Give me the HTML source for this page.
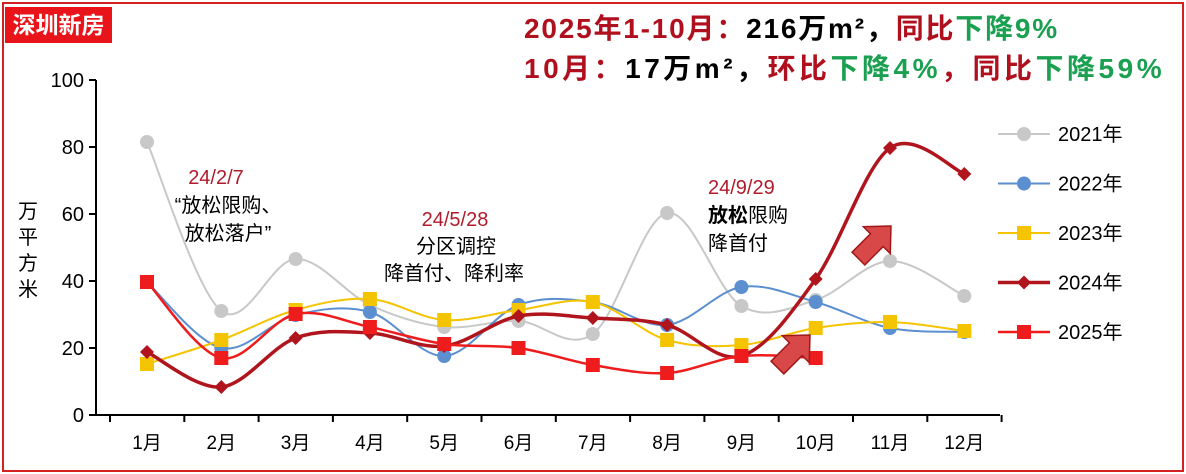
<!DOCTYPE html><html><head><meta charset="utf-8"><style>
body{margin:0;background:#fff;font-family:"Liberation Sans","Noto Sans CJK SC",sans-serif}
#c{position:relative;width:1186px;height:474px;overflow:hidden}
.t{position:absolute;white-space:nowrap}
</style></head><body><div id="c">
<div style="position:absolute;left:2px;top:2px;width:1178px;height:466px;border:2px solid #d42020"></div>
<div class="t" style="left:5px;top:7px;width:107px;height:36px;background:#e8141a;color:#fff;font-weight:bold;font-size:23px;line-height:36px;text-align:center">深圳新房</div>
<div class="t" style="left:524px;top:7px;font-size:28px;letter-spacing:1.8px;font-weight:bold;color:#000"><span style="color:#b0101e">2025年1-10月：</span>216万m²，<span style="color:#b0101e">同比</span><span style="color:#1aa050">下降9%</span></div>
<div class="t" style="left:524px;top:47px;font-size:28px;letter-spacing:3.5px;font-weight:bold;color:#000"><span style="color:#b0101e">10月：</span>17万m²，<span style="color:#b0101e">环比</span><span style="color:#1aa050">下降4%</span><span style="color:#b0101e">，同比</span><span style="color:#1aa050">下降59%</span></div>
<svg id="s" width="1186" height="474" style="position:absolute;left:0;top:0" font-family="Liberation Sans,Noto Sans CJK SC,sans-serif"></svg>
</div>
<script>
const s=document.getElementById('s');let h='';
const X=i=>147+i*74.3;
h+='<line x1="96" y1="80" x2="96" y2="415" stroke="#000" stroke-width="2"/><line x1="96" y1="415" x2="1000" y2="415" stroke="#000" stroke-width="2"/>';
for(let v=0;v<=100;v+=20){const y=415-3.35*v;h+=`<line x1="89" y1="${y}" x2="96" y2="${y}" stroke="#000" stroke-width="2"/><text x="84" y="${y+7}" font-size="20" text-anchor="end">${v}</text>`;}
for(let i=0;i<=12;i++){const x=110+i*74.3;h+=`<line x1="${x}" y1="415" x2="${x}" y2="422" stroke="#000" stroke-width="2"/>`;}
for(let i=0;i<12;i++)h+=`<text x="${X(i)}" y="449" font-size="19" text-anchor="middle">${i+1}月</text>`;
h+='<text x="28" y="218" font-size="20" text-anchor="middle">万</text><text x="28" y="244" font-size="20" text-anchor="middle">平</text><text x="28" y="270" font-size="20" text-anchor="middle">方</text><text x="28" y="296" font-size="20" text-anchor="middle">米</text>';
const S=[
['#c8c8c8',2,'c',[142,311,259,305,327,321,334,213,306,300,261,296]],
['#5b8fd0',2,'c',[282,348,315,312,356,305,302,325,287,302,328,332]],
['#f5c400',2,'s',[364,340,310,299,320,310,302,340,345,328,322,331]],
['#b0141c',3.5,'d',[352,387,338,333,346,316,318,325,356,279,148,174]],
['#ee1c1c',2.5,'s',[282,358,314,327,344,348,365,373,356,358]]];
function path(ys){let p=`M${X(0)},${ys[0]}`;for(let i=0;i<ys.length-1;i++){const y0=ys[Math.max(i-1,0)],y1=ys[i],y2=ys[i+1],y3=ys[Math.min(i+2,ys.length-1)];const x0=X(Math.max(i-1,0)),x1=X(i),x2=X(i+1),x3=X(Math.min(i+2,ys.length-1));p+=`C${x1+(x2-x0)/6},${y1+(y2-y0)/6} ${x2-(x3-x1)/6},${y2-(y3-y1)/6} ${x2},${y2}`;}return p;}
function mk(t,c,x,y){if(t=='c')return`<circle cx="${x}" cy="${y}" r="7" fill="${c}"/>`;if(t=='s')return`<rect x="${x-7}" y="${y-7}" width="14" height="14" fill="${c}"/>`;return`<polygon points="${x},${y-7} ${x+7},${y} ${x},${y+7} ${x-7},${y}" fill="${c}"/>`;}
S.forEach(([c,w,t,ys])=>{h+=`<path d="${path(ys)}" fill="none" stroke="${c}" stroke-width="${w}"/>`;ys.forEach((y,i)=>h+=mk(t,c,X(i),y));});
function arr(cx,cy){return`<g transform="translate(${cx},${cy}) rotate(-45)"><polygon points="-22,-9 4,-9 4,-19 24,0 4,19 4,9 -22,9" fill="#d84848" stroke="#a01818" stroke-width="1.5"/></g>`;}
h+=arr(793,352)+arr(874,243);
h+='<text x="216" y="184" font-size="20" fill="#b01c2c" text-anchor="middle">24/2/7</text><text x="228" y="212" font-size="20" text-anchor="middle">“放松限购、</text><text x="228" y="240" font-size="20" text-anchor="middle">放松落户”</text>';
h+='<text x="455" y="226" font-size="20" fill="#b01c2c" text-anchor="middle">24/5/28</text><text x="456" y="253" font-size="20" text-anchor="middle">分区调控</text><text x="454" y="280" font-size="20" text-anchor="middle">降首付、降利率</text>';
h+='<text x="708" y="194" font-size="20" fill="#b01c2c">24/9/29</text><text x="708" y="222" font-size="20"><tspan font-weight="bold">放松</tspan>限购</text><text x="708" y="250" font-size="20">降首付</text>';
const L=['2021年','2022年','2023年','2024年','2025年'];
L.forEach((n,i)=>{const y=134+i*49.5;const [c,w,t]=S[i];h+=`<line x1="998" y1="${y}" x2="1050" y2="${y}" stroke="${c}" stroke-width="${w}"/>`+mk(t,c,1024,y)+`<text x="1058" y="${y+7}" font-size="20">${n}</text>`;});
s.innerHTML=h;
</script></body></html>
